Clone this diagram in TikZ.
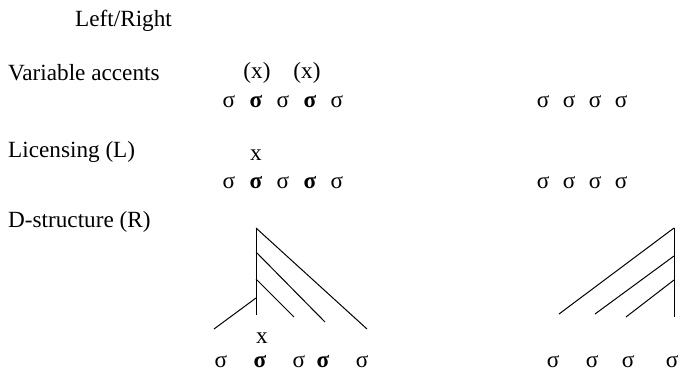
\documentclass[tikz,border=0pt]{standalone}
\usepackage{fontspec}
\setmainfont{Liberation Serif}
\begin{document}
\begin{tikzpicture}[x=1pt,y=-1pt,
  txt/.style={inner sep=0pt,anchor=base,font=\fontsize{23.2}{27}\selectfont},
  lbl/.style={txt,anchor=base west},
  syl/.style={txt},
  hsyl/.style={txt,font=\fontsize{23.2}{27}\selectfont\bfseries},
  branch/.style={line width=1pt,line cap=butt}]
\useasboundingbox (0,0) rectangle (683,372);

% row labels
\node[lbl] (head) at (75,27) {Left/Right};
\node[lbl] (va) at (8,80) {Variable accents};
\node[lbl] (lic) at (8,157) {Licensing (L)};
\node[lbl] (ds) at (8,227) {D-structure (R)};

% variable accents
\node[txt] (p1) at (257,78) {(x)};
\node[txt] (p2) at (307,78) {(x)};
\node[syl]  (a1) at (229,107) {σ};
\node[hsyl] (a2) at (256,107) {σ};
\node[syl]  (a3) at (283,107) {σ};
\node[hsyl] (a4) at (310,107) {σ};
\node[syl]  (a5) at (337,107) {σ};
\node[syl] (ar1) at (543,107) {σ};
\node[syl] (ar2) at (569,107) {σ};
\node[syl] (ar3) at (595,107) {σ};
\node[syl] (ar4) at (621,107) {σ};

% licensing
\node[txt] (lx) at (256,160) {x};
\node[syl]  (b1) at (229,188) {σ};
\node[hsyl] (b2) at (256,188) {σ};
\node[syl]  (b3) at (283,188) {σ};
\node[hsyl] (b4) at (310,188) {σ};
\node[syl]  (b5) at (337,188) {σ};
\node[syl] (br1) at (543,188) {σ};
\node[syl] (br2) at (569,188) {σ};
\node[syl] (br3) at (595,188) {σ};
\node[syl] (br4) at (621,188) {σ};

% D-structure, left-headed tree
\coordinate (lt) at (256,228);
\coordinate (lb) at (256,315);
\coordinate (l1) at (256,252);
\coordinate (l2) at (256,279);
\coordinate (l3) at (256,298);
\coordinate (le0) at (367,329);
\coordinate (le1) at (325,322);
\coordinate (le2) at (294,317);
\coordinate (le3) at (214,329);
\draw[branch] (lt) -- (lb);
\draw[branch] (lt) -- (le0);
\draw[branch] (l1) -- (le1);
\draw[branch] (l2) -- (le2);
\draw[branch] (l3) -- (le3);
\node[txt] (dx) at (262,343) {x};
\node[syl]  (c1) at (221,367) {σ};
\node[hsyl] (c2) at (260,367) {σ};
\node[syl]  (c3) at (299,367) {σ};
\node[hsyl] (c4) at (323,367) {σ};
\node[syl]  (c5) at (362,367) {σ};

% D-structure, right-headed tree
\coordinate (rt) at (674,228);
\coordinate (rb) at (674,317);
\coordinate (r1) at (674,256);
\coordinate (r2) at (674,280);
\coordinate (re0) at (559,314);
\coordinate (re1) at (595,314);
\coordinate (re2) at (626,317);
\draw[branch] (rt) -- (rb);
\draw[branch] (rt) -- (re0);
\draw[branch] (r1) -- (re1);
\draw[branch] (r2) -- (re2);
\node[syl] (cr1) at (553,367) {σ};
\node[syl] (cr2) at (592,367) {σ};
\node[syl] (cr3) at (628,367) {σ};
\node[syl] (cr4) at (672,367) {σ};
\end{tikzpicture}
\end{document}
